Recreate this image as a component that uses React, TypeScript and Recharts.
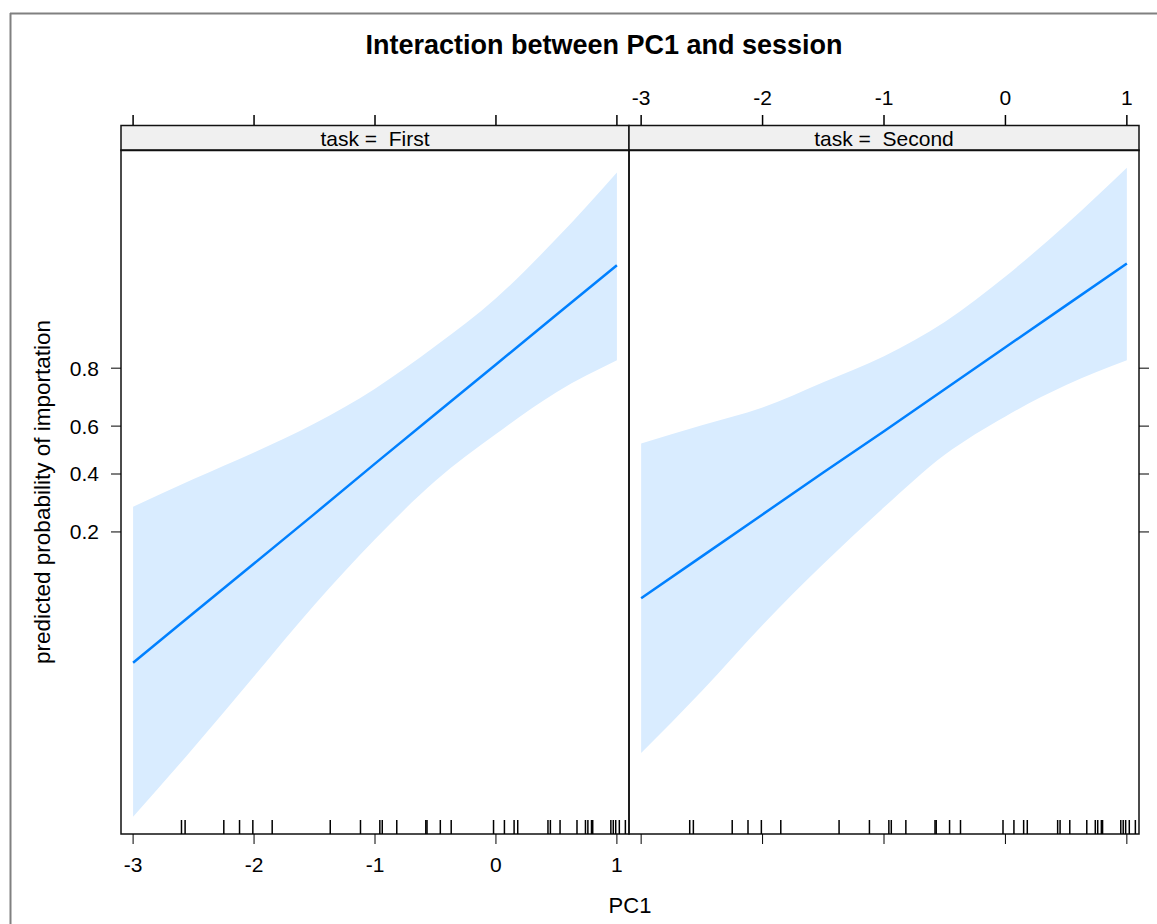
import { ComposedChart, Area, Line, Scatter, XAxis, YAxis, ReferenceArea } from 'recharts';

// PC1 values where the effect curves are read
const pc1 = [-3, -2.5, -2, -1.5, -1, -0.5, 0, 0.5, 1];

// linear predictor (logit scale), task = First
const fitFirst = [-3.6, -2.76, -1.92, -1.08, -0.23, 0.61, 1.45, 2.29, 3.13];
const lowerFirst = [-6.21, -5.04, -3.83, -2.62, -1.51, -0.52, 0.27, 0.98, 1.52];
const upperFirst = [-0.96, -0.49, -0.04, 0.45, 1.04, 1.76, 2.57, 3.58, 4.7];

// linear predictor (logit scale), task = Second
const fitSecond = [-2.51, -1.8, -1.09, -0.38, 0.32, 1.03, 1.74, 2.45, 3.16];
const lowerSecond = [-5.13, -4.08, -2.96, -1.93, -0.97, -0.08, 0.57, 1.1, 1.52];
const upperSecond = [0.11, 0.42, 0.72, 1.15, 1.59, 2.17, 2.94, 3.82, 4.78];

// observed PC1 values (rug)
const rugPC1 = [
  -2.6, -2.57, -2.25, -2.12, -2.01, -1.85, -1.37, -1.12, -0.96, -0.94, -0.82, -0.58, -0.57,
  -0.46, -0.37, -0.02, 0.07, 0.15, 0.18, 0.43, 0.45, 0.53, 0.67, 0.74, 0.76, 0.79, 0.8, 0.95,
  0.97, 0.99, 1.02, 1.07,
];

const xTicks = [-3, -2, -1, 0, 1];
const probTicks = [0.2, 0.4, 0.6, 0.8];

const X_DOMAIN: [number, number] = [-3.1, 1.1];
const Y_DOMAIN: [number, number] = [-6.5, 5.08];

const W = 1157;
const H = 924;
const STRIP_H = 25;
const FONT = '"Liberation Sans", Arial, sans-serif';
const TICK_FS = 21;

const logit = (p: number) => Math.log(p / (1 - p));
const yTicks = probTicks.map(logit);
const toProb = (v: number) => (1 / (1 + Math.exp(-v))).toFixed(1);

const TopTick = (props: any) => {
  const { x, y, payload, showLabel } = props;
  const base = y - STRIP_H;
  return (
    <g>
      <line x1={x} x2={x} y1={base} y2={base - 10} stroke="#000" strokeWidth={1.5} />
      {showLabel && (
        <text x={x} y={base - 20} textAnchor="middle" fontSize={TICK_FS} fill="#000" fontFamily={FONT}>
          {String(payload.value)}
        </text>
      )}
    </g>
  );
};

const BottomTick = (props: any) => {
  const { x, y, payload, showLabel } = props;
  if (!showLabel) return <g />;
  return (
    <text x={x} y={y} dy="0.71em" textAnchor="middle" fontSize={TICK_FS} fill="#000" fontFamily={FONT}>
      {String(payload.value)}
    </text>
  );
};

const LeftTick = (props: any) => {
  const { x, y, payload, showLabel } = props;
  if (!showLabel) return <g />;
  return (
    <text x={x} y={y} dy="0.355em" textAnchor="end" fontSize={TICK_FS} fill="#000" fontFamily={FONT}>
      {toProb(payload.value)}
    </text>
  );
};

const RugMark = (props: any) => (
  <line x1={props.cx} x2={props.cx} y1={props.cy} y2={props.cy - 14} stroke="#000" strokeWidth={1.5} />
);

const yLabel = (props: any) => {
  const vb = props.viewBox;
  const cx = vb.x + 32;
  const cy = vb.y + vb.height / 2;
  return (
    <text
      x={cx}
      y={cy}
      transform={`rotate(-90, ${cx}, ${cy})`}
      textAnchor="middle"
      dominantBaseline="central"
      fontSize={22.5}
      fill="#000"
      fontFamily={FONT}
    >
      predicted probability of importation
    </text>
  );
};

function Panel({ side, fit, lower, upper }: { side: 'left' | 'right'; fit: number[]; lower: number[]; upper: number[] }) {
  const isLeft = side === 'left';
  const data = pc1.map((x, i) => ({ x, fit: fit[i], band: [lower[i], upper[i]] }));
  const rug = rugPC1.map((x) => ({ x, y: Y_DOMAIN[0] }));
  const margin = isLeft
    ? { top: 125, right: 528, bottom: 60, left: 10 }
    : { top: 125, right: 0, bottom: 60, left: 629 };

  return (
    <div style={{ position: 'absolute', left: 0, top: 0 }}>
      <ComposedChart width={W} height={H} data={data} margin={margin}>
        <XAxis
          dataKey="x"
          type="number"
          domain={X_DOMAIN}
          allowDataOverflow
          ticks={xTicks}
          interval={0}
          height={30}
          tickSize={10}
          tickMargin={13}
          stroke="#000"
          axisLine={false}
          tick={(p: any) => <BottomTick {...p} showLabel={isLeft} />}
        />
        <XAxis
          xAxisId="top"
          orientation="top"
          dataKey="x"
          type="number"
          domain={X_DOMAIN}
          allowDataOverflow
          ticks={xTicks}
          interval={0}
          height={25}
          tickSize={0}
          tickMargin={0}
          tickLine={false}
          axisLine={false}
          tick={(p: any) => <TopTick {...p} showLabel={!isLeft} />}
        />
        <YAxis
          dataKey="y"
          type="number"
          orientation={isLeft ? 'left' : 'right'}
          domain={Y_DOMAIN}
          allowDataOverflow
          ticks={yTicks}
          interval={0}
          width={isLeft ? 111 : 18}
          tickSize={10}
          tickMargin={12}
          stroke="#000"
          axisLine={false}
          tick={(p: any) => <LeftTick {...p} showLabel={isLeft} />}
          label={isLeft ? yLabel : undefined}
        />
        <Area
          dataKey="band"
          type="monotone"
          stroke="none"
          fill="#D9ECFF"
          fillOpacity={1}
          dot={false}
          activeDot={false}
          isAnimationActive={false}
        />
        <Line
          dataKey="fit"
          type="linear"
          stroke="#0080FF"
          strokeWidth={2.5}
          dot={false}
          activeDot={false}
          isAnimationActive={false}
        />
        <Scatter data={rug} shape={RugMark} isAnimationActive={false} />
        <ReferenceArea
          x1={X_DOMAIN[0]}
          x2={X_DOMAIN[1]}
          y1={Y_DOMAIN[0]}
          y2={Y_DOMAIN[1]}
          fill="none"
          stroke="#111"
          strokeWidth={1.5}
          ifOverflow="visible"
        />
      </ComposedChart>
    </div>
  );
}

export default function App() {
  return (
    <div style={{ position: 'absolute', left: 0, top: 0, width: W, height: H, background: '#fff', fontFamily: FONT, overflow: 'hidden' }}>
      <svg width={W} height={H} style={{ position: 'absolute', left: 0, top: 0 }}>
        <line x1={10} x2={W} y1={13.5} y2={13.5} stroke="#808080" strokeWidth={2} />
        <line x1={10.5} x2={10.5} y1={13} y2={H} stroke="#808080" strokeWidth={2} />
        <text x={604} y={54} textAnchor="middle" fontSize={27} fontWeight="bold" fill="#000" fontFamily={FONT}>
          Interaction between PC1 and session
        </text>
        <rect x={121} y={125.5} width={508} height={STRIP_H} fill="#F0F0F0" stroke="#111" strokeWidth={1.5} />
        <rect x={629} y={125.5} width={510} height={STRIP_H} fill="#F0F0F0" stroke="#111" strokeWidth={1.5} />
        <text x={375} y={146} textAnchor="middle" fontSize={21} fill="#000" fontFamily={FONT} style={{ whiteSpace: 'pre' }}>
          {'task =  First'}
        </text>
        <text x={884} y={146} textAnchor="middle" fontSize={21} fill="#000" fontFamily={FONT} style={{ whiteSpace: 'pre' }}>
          {'task =  Second'}
        </text>
        <text x={630} y={913} textAnchor="middle" fontSize={22} fill="#000" fontFamily={FONT}>
          PC1
        </text>
      </svg>
      <Panel side="left" fit={fitFirst} lower={lowerFirst} upper={upperFirst} />
      <Panel side="right" fit={fitSecond} lower={lowerSecond} upper={upperSecond} />
    </div>
  );
}
